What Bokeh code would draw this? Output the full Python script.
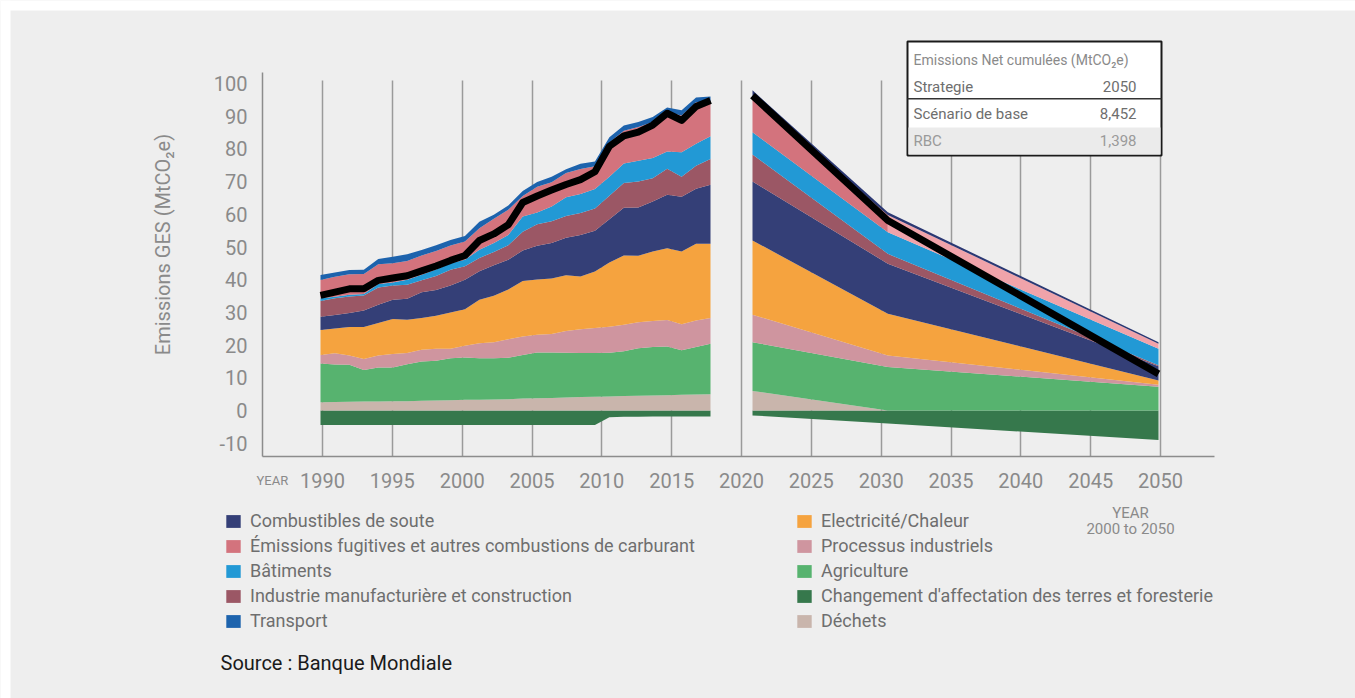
import math
import numpy as np
from bokeh.plotting import figure
from bokeh.models import Range1d, FixedTicker, Legend, LegendItem, Label, BoxAnnotation
from bokeh.embed import file_html
from bokeh.resources import INLINE

# ---------------- data ----------------
years_hist = [1990, 1991, 1992, 1993, 1994, 1995, 1996, 1997, 1998, 1999,
              2000, 2001, 2002, 2003, 2004, 2005, 2006, 2007, 2008, 2009,
              2010, 2011, 2012, 2013, 2014, 2015, 2016, 2017]
lucf_hist = [-4.4, -4.4, -4.4, -4.4, -4.4, -4.4, -4.4, -4.4, -4.4, -4.4,
             -4.4, -4.4, -4.4, -4.4, -4.4, -4.4, -4.4, -4.4, -4.4, -4.4,
             -2.1, -1.9, -1.9, -1.85, -1.85, -1.8, -1.8, -1.8]
dechets_hist = [2.5, 2.6, 2.7, 2.75, 2.75, 2.85, 2.85, 3.0, 3.05, 3.15, 3.25, 3.25, 3.35, 3.45,
                3.65, 3.75, 3.85, 4.0, 4.1, 4.2, 4.3, 4.4, 4.5, 4.6, 4.7, 4.8, 4.9, 5.0]
agri_hist = [11.9, 11.5, 11.3, 9.6, 10.4, 10.3, 11.3, 12.0, 12.2, 12.8, 12.95, 12.75, 12.65, 12.65,
             13.35, 14.0, 13.85, 13.65, 13.45, 13.35, 13.35, 13.75, 14.55, 14.85, 14.9, 13.65, 14.5, 15.4]
proc_hist = [2.6, 3.4, 2.8, 3.4, 3.7, 4.1, 3.4, 3.6, 3.6, 2.9, 3.6, 4.6, 4.9, 5.7,
             5.6, 5.4, 5.7, 6.7, 7.3, 7.65, 7.95, 8.05, 7.95, 7.95, 8.05, 7.95, 8.15, 7.85]
elec_hist = [7.6, 7.6, 8.7, 9.8, 9.9, 10.7, 10.2, 9.7, 10.1, 11.1, 11.2, 13.25, 14.2, 15.2,
             17.0, 16.9, 17.0, 17.0, 16.1, 17.3, 19.65, 21.2, 20.3, 21.2, 22.0, 22.2, 23.45, 22.75]
comb_hist = [4.1, 4.1, 4.3, 5.0, 5.6, 5.9, 6.4, 7.9, 7.9, 8.3, 9.0, 8.7, 9.3, 9.1,
             9.3, 10.3, 10.8, 11.5, 12.75, 12.45, 13.25, 14.6, 14.8, 15.3, 16.3, 16.8, 16.8, 18.05]
indus_hist = [4.8, 5.1, 5.1, 4.6, 5.3, 4.4, 4.3, 3.6, 4.3, 4.8, 4.1, 4.1, 4.1, 4.4,
              5.8, 6.6, 6.7, 6.6, 6.7, 6.85, 7.15, 7.55, 7.95, 7.15, 7.95, 6.1, 7.05, 7.85]
bat_hist = [0.8, 0.5, 0.5, 0.5, 1.0, 0.9, 1.5, 1.7, 2.0, 2.0, 2.0, 2.5, 2.75, 3.2,
            4.6, 3.6, 4.5, 5.8, 5.8, 5.9, 5.8, 6.0, 6.3, 6.2, 5.3, 7.45, 6.75, 6.95]
fug_hist = [5.6, 6.1, 6.3, 6.1, 6.1, 5.9, 5.8, 5.9, 5.6, 5.4, 5.6, 6.6, 7.4, 7.7,
            6.3, 7.85, 7.4, 7.35, 7.65, 7.0, 10.5, 10.0, 10.35, 11.0, 12.0, 11.3, 12.65, 10.7]
transport_hist = [1.5, 1.3, 1.3, 1.3, 1.6, 2.0, 2.0, 1.7, 1.8, 1.7, 1.7, 2.0, 1.2, 1.3,
                  1.5, 1.5, 1.7, 1.2, 1.6, 1.45, 1.6, 1.6, 1.5, 1.5, 1.45, 1.55, 1.5, 1.5]
black_hist = [35.2, 36.2, 37.2, 37.2, 39.8, 40.5, 41.2, 42.7, 44.2, 45.9, 47.4, 52.0, 54.0, 56.8,
              63.6, 65.6, 67.4, 69.1, 70.6, 73.0, 80.8, 84.0, 85.1, 87.3, 90.9, 88.7, 93.0, 94.8]

years_proj = [2020, 2030, 2050]
lucf_proj = [-1.5, -4.0, -9.0]
dechets_proj = [6.0, 0.0, 0.0]
agri_proj = [14.9, 13.3, 7.3]
proc_proj = [8.4, 3.5, 0.6]
elec_proj = [22.7, 12.8, 1.3]
comb_proj = [18.0, 15.3, 4.3]
indus_proj = [8.3, 3.0, 0.3]
bat_proj = [6.8, 6.6, 5.1]
fug_proj = [10.4, 5.3, 1.5]
transport_proj = [2.4, 0.8, 0.5]
black_proj = [96.3, 58.1, 11.2]

x_ticks = [1990, 1995, 2000, 2005, 2010, 2015, 2020, 2025, 2030, 2035, 2040, 2045, 2050]
y_ticks = [-10, 0, 10, 20, 30, 40, 50, 60, 70, 80, 90, 100]

legend_left = ["Combustibles de soute", "Émissions fugitives et autres combustions de carburant",
               "Bâtiments", "Industrie manufacturière et construction", "Transport"]
legend_right = ["Electricité/Chaleur", "Processus industriels", "Agriculture",
                "Changement d'affectation des terres et foresterie", "Déchets"]

y_title = "Emissions GES (MtCO\u2082e)"
table_title = "Emissions Net cumulées (MtCO\u2082e)"
table_labels = ["Strategie", "Scénario de base", "RBC"]
table_values = ["2050", "8,452", "1,398"]

# ---------------- style / layout ----------------
FONT = "Roboto"
GRAY = "#8a8a8a"
COL = {
    "lucf": "#36784c", "dechets": "#c9b5ac", "agri": "#57b36f", "proc": "#cf959f",
    "elec": "#f5a33f", "comb": "#343f77", "indus": "#9b5765", "bat": "#2299d5",
    "fug": "#d3737d", "transport": "#1d63ad",
}
FUG_LIGHT = "#f0a3aa"
TRANSPORT_PROJ = "#2b3873"

W, H = 1355, 698
Y_ZERO, YS = 410.0, 3.27                   # page px of value 0, px per unit
XS = (1160 - 322) / 60.0                   # main axis px per year
LS = (710 - 320) / 27.0                    # historical panel px per year
RS = (1158 - 752) / 30.0                   # projection panel px per year


def xv(px):
    return 1990 + (px - 322) / XS


def yv(py):
    return (Y_ZERO - py) / YS


p = figure(width=W, height=H, output_backend="svg", toolbar_location=None,
           x_range=Range1d(xv(0), xv(W)), y_range=Range1d(yv(H), yv(0)),
           min_border_left=0, min_border_right=0, min_border_top=0, min_border_bottom=0,
           background_fill_color="#eeeeee", border_fill_color="#eeeeee",
           outline_line_color=None)
p.extra_x_ranges = {"left": Range1d(1990 - 320 / LS, 1990 + (W - 320) / LS),
                    "right": Range1d(2020 - 752 / RS, 2020 + (W - 752) / RS)}

# white page border like the reference
p.add_layout(BoxAnnotation(left=xv(0), right=xv(W), top=yv(0), bottom=yv(10),
                           fill_color="white", fill_alpha=1, line_color=None, level="underlay"))
p.add_layout(BoxAnnotation(left=xv(0), right=xv(10), top=yv(0), bottom=yv(H),
                           fill_color="white", fill_alpha=1, line_color=None, level="underlay"))

# axes (drawn at fixed locations inside the canvas)
for ax in (p.xaxis[0], p.yaxis[0]):
    ax.axis_line_color = "#8c8c8c"
    ax.axis_line_width = 1.5
    ax.major_tick_out = 0
    ax.major_tick_in = 0
    ax.minor_tick_out = 0
    ax.minor_tick_in = 0
    ax.major_tick_line_color = None
    ax.minor_tick_line_color = None
    ax.major_label_text_font = FONT
    ax.major_label_text_font_size = "20px"
    ax.major_label_text_color = GRAY

p.xaxis.ticker = FixedTicker(ticks=x_ticks)
p.xaxis.fixed_location = yv(456)
p.xaxis.bounds = (xv(262), xv(1214))
p.xaxis.major_label_standoff = 16
p.yaxis.ticker = FixedTicker(ticks=y_ticks)
p.yaxis.fixed_location = xv(262)
p.yaxis.bounds = (yv(456), yv(72))
p.yaxis.major_label_standoff = 15
p.yaxis.major_label_overrides = {-10: "-10"}

p.ygrid.visible = False
g = p.xgrid[0]
g.ticker = FixedTicker(ticks=x_ticks)
g.grid_line_color = "#9a9a9a"
g.grid_line_width = 1.5
if "cross_bounds" in g.properties():
    g.cross_bounds = (yv(456), yv(80))


# ---------------- stacked areas ----------------
def stack(layers, n):
    out = {}
    base = np.zeros(n)
    for key, vals in layers:
        top = base + np.array(vals)
        out[key] = (base.copy(), top)
        base = top
    return out


hist_layers = [("dechets", dechets_hist), ("agri", agri_hist), ("proc", proc_hist),
               ("elec", elec_hist), ("comb", comb_hist), ("indus", indus_hist),
               ("bat", bat_hist), ("fug", fug_hist), ("transport", transport_hist)]
proj_layers = [("dechets", dechets_proj), ("agri", agri_proj), ("proc", proc_proj),
               ("elec", elec_proj), ("comb", comb_proj), ("indus", indus_proj),
               ("bat", bat_proj), ("fug", fug_proj), ("transport", transport_proj)]

renderers = {}
renderers["lucf"] = p.varea(x=years_hist, y1=np.zeros(len(years_hist)), y2=lucf_hist,
                            x_range_name="left", fill_color=COL["lucf"])
hist = stack(hist_layers, len(years_hist))
for key, _ in hist_layers:
    b, t = hist[key]
    renderers[key] = p.varea(x=years_hist, y1=b, y2=t, x_range_name="left", fill_color=COL[key])

p.varea(x=years_proj, y1=np.zeros(len(years_proj)), y2=lucf_proj, x_range_name="right",
        fill_color=COL["lucf"])
proj = stack(proj_layers, len(years_proj))
for key, _ in proj_layers:
    b, t = proj[key]
    if key == "fug":
        p.varea(x=years_proj[:2], y1=b[:2], y2=t[:2], x_range_name="right", fill_color=COL["fug"])
        p.varea(x=years_proj[1:], y1=b[1:], y2=t[1:], x_range_name="right", fill_color=FUG_LIGHT)
    elif key == "transport":
        p.varea(x=years_proj, y1=b, y2=t, x_range_name="right", fill_color=TRANSPORT_PROJ)
    else:
        p.varea(x=years_proj, y1=b, y2=t, x_range_name="right", fill_color=COL[key])

p.line(years_hist, black_hist, x_range_name="left", line_color="black", line_width=7,
       line_join="round")
p.line(years_proj, black_proj, x_range_name="right", line_color="black", line_width=7,
       line_join="round")

# ---------------- legends ----------------
left_keys = ["comb", "fug", "bat", "indus", "transport"]
right_keys = ["elec", "proc", "agri", "lucf", "dechets"]


def make_legend(labels, keys, px):
    items = [LegendItem(label=l, renderers=[renderers[k]]) for l, k in zip(labels, keys)]
    lg = Legend(items=items, location=(px, H - 631), orientation="vertical",
                padding=0, margin=0, spacing=4, label_standoff=8,
                glyph_width=18, glyph_height=16, label_height=20,
                label_text_font=FONT, label_text_font_size="18px",
                label_text_color="#6e6e6e", border_line_color=None,
                background_fill_alpha=0, inactive_fill_alpha=0)
    p.add_layout(lg)


make_legend(legend_left, left_keys, 224)
make_legend(legend_right, right_keys, 795)

# ---------------- table ----------------
p.add_layout(BoxAnnotation(left=xv(907), right=xv(1161), top=yv(41), bottom=yv(155),
                           fill_color="white", fill_alpha=1, line_color="#1a1a1a",
                           line_width=2, line_alpha=1))
p.add_layout(BoxAnnotation(left=xv(908), right=xv(1160), top=yv(127), bottom=yv(154),
                           fill_color="#ebebeb", fill_alpha=1, line_color=None))
p.add_layout(BoxAnnotation(left=xv(907), right=xv(1161), top=yv(97.5), bottom=yv(99),
                           fill_color="#333333", fill_alpha=1, line_color=None))


def lab(px, py, text, size, color, align="left", angle=0.0):
    p.add_layout(Label(x=xv(px), y=yv(py), text=text, text_font=FONT, text_font_size=size,
                       text_color=color, text_align=align, text_baseline="middle",
                       angle=angle))


lab(913, 59, table_title, "14px", GRAY)
row_y = [86, 113, 140]
row_c = ["#6e6e6e", "#6e6e6e", "#9a9a9a"]
for yy, c, t, v in zip(row_y, row_c, table_labels, table_values):
    lab(913, yy, t, "15px", c)
    lab(1136, yy, v, "15px", c, "right")

# ---------------- other texts ----------------
lab(162, 244, y_title, "20px", GRAY, "center", math.pi / 2)
lab(256, 480, "YEAR", "13px", GRAY)
lab(1130, 512, "YEAR", "15px", GRAY, "center")
lab(1130, 528, "2000 to 2050", "15px", GRAY, "center")
lab(220, 662, "Source : Banque Mondiale", "20px", "#1a1a1a")

open("out.html", "w").write(file_html(p, INLINE))
